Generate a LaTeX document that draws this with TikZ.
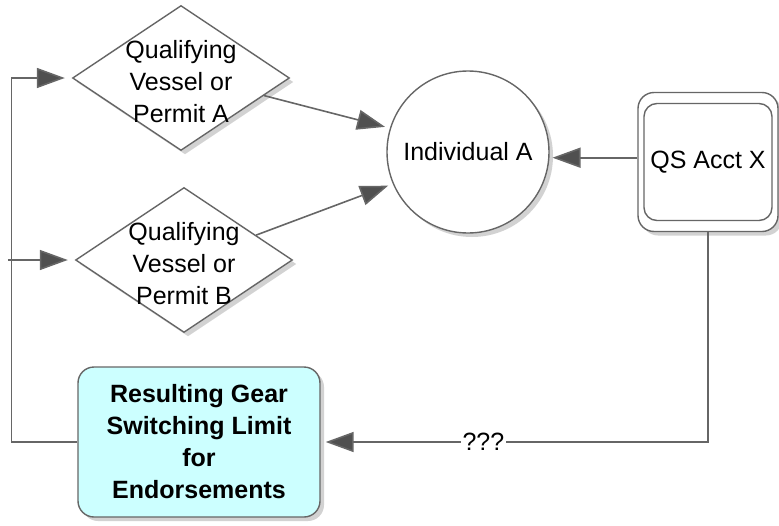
\documentclass[tikz,border=0pt]{standalone}
\usepackage{fontspec}
\setmainfont{Liberation Sans}
\usetikzlibrary{positioning, calc, shapes.geometric, shadows, arrows.meta}
\definecolor{linegray}{HTML}{666666}
\definecolor{tipgray}{HTML}{505050}
\definecolor{resultcyan}{HTML}{CCFFFF}
\tikzset{%
  every node/.style={font=\fontsize{25}{32}\selectfont, align=center},
  shade box/.style={drop shadow={shadow xshift=4pt, shadow yshift=-4pt, fill=black!35}},
  qualifier/.style={diamond, draw=linegray, line width=1.4pt, fill=white, inner sep=0pt,
    minimum width=217pt, minimum height=145pt, shade box},
  person/.style={circle, draw=linegray, line width=1.4pt, fill=white, inner sep=0pt,
    minimum size=162pt, shade box},
  account/.style={rectangle, rounded corners=16pt, draw=linegray, line width=1.4pt, fill=white,
    inner sep=0pt, minimum width=140pt, minimum height=139pt},
  result/.style={rectangle, rounded corners=16pt, draw=linegray, line width=1.4pt, fill=resultcyan,
    inner sep=0pt, minimum width=242pt, minimum height=150pt, font=\fontsize{25}{32}\selectfont\bfseries, shade box},
  flow/.style={draw=linegray, line width=1.6pt, ->, shorten >=5pt}
}

\begin{document}
\begin{tikzpicture}[x=1pt, y=-1pt, >={Triangle[length=28pt, width=20pt, fill=tipgray]}]
\useasboundingbox (0,0) rectangle (779,525);

% the two qualifying diamonds
\node[qualifier, label={[yshift=-4pt]center:{Qualifying\\Vessel or\\Permit A}}] (diaA) at (181,78) {};
\node[qualifier, label={[yshift=-4pt]center:{Qualifying\\Vessel or\\Permit B}}] (diaB) at (184,260) {};

\node[person] (indA) at (468,152) {Individual A};

% account box with its double outline
\node[account, shade box] (qs) at (708,162) {};
\node[account, minimum width=128pt, minimum height=117pt, rounded corners=13pt] (qsIn) at (qs) {QS Acct X};

\node[result] (res) at (199,442) {Resulting Gear\\Switching Limit\\for\\Endorsements};

\draw[flow] ($(diaA.east)!0.24!(diaA.south)$) -- (indA.163);
\draw[flow] ($(diaB.east)!0.34!(diaB.north)$) -- (indA.203);
\draw[flow, shorten >=3pt] (qs.west |- indA.-4) -- (indA.-4);

\draw[flow] (qs.south) |- node[pos=0.79, fill=white, inner sep=2pt] {???} (res.east);

% feedback to both diamonds
\draw[flow, shorten >=7pt] (res.west) -- ++(-66,0) |- (diaA.west);
\path (diaB.west) ++(-67,0) coordinate (split);
\draw[flow, shorten >=7pt] (split) -- (diaB.west);

\end{tikzpicture}
\end{document}
